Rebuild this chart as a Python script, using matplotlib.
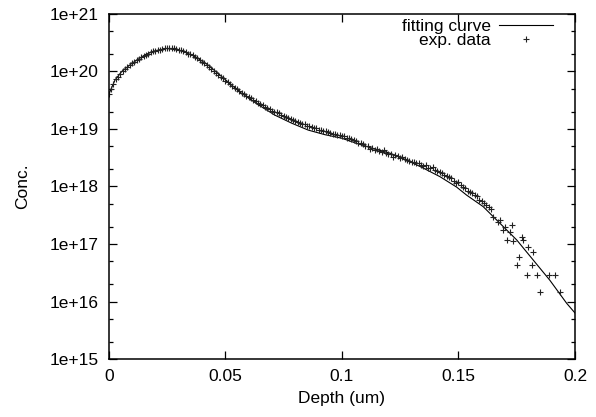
import numpy as np
import matplotlib
matplotlib.use("Agg")
import matplotlib.pyplot as plt
from matplotlib.ticker import FixedLocator, FuncFormatter

plt.rcParams['font.family'] = ['Liberation Sans', 'DejaVu Sans']

# fitting curve (depth in um, log10 of conc.)
fit_depth = [0.0, 0.0027, 0.0056, 0.0099, 0.0156, 0.0199, 0.0249, 0.0313,
             0.037, 0.0427, 0.0485, 0.0534, 0.057, 0.0642, 0.0713, 0.0785,
             0.0856, 0.0928, 0.0999, 0.1063, 0.1135, 0.1206, 0.1278, 0.1349,
             0.1421, 0.1492, 0.1535, 0.1606, 0.1678, 0.175, 0.1821, 0.1892,
             0.1964, 0.2]
fit_log = [19.60, 19.85, 20.00, 20.14, 20.29, 20.36, 20.40, 20.36,
           20.26, 20.11, 19.91, 19.74, 19.62, 19.42, 19.24, 19.10,
           18.98, 18.90, 18.84, 18.75, 18.66, 18.58, 18.46, 18.32,
           18.17, 17.99, 17.85, 17.65, 17.36, 17.07, 16.72, 16.37,
           15.97, 15.80]

# experimental points, dense part (0 .. 0.165 um, one per nm)
exp_depth = [
    0.000, 0.001, 0.002, 0.003, 0.004, 0.005, 0.006, 0.007, 0.008, 0.009,
    0.010, 0.011, 0.012, 0.013, 0.014, 0.015, 0.016, 0.017, 0.018, 0.019,
    0.020, 0.021, 0.022, 0.023, 0.024, 0.025, 0.026, 0.027, 0.028, 0.029,
    0.030, 0.031, 0.032, 0.033, 0.034, 0.035, 0.036, 0.037, 0.038, 0.039,
    0.040, 0.041, 0.042, 0.043, 0.044, 0.045, 0.046, 0.047, 0.048, 0.049,
    0.050, 0.051, 0.052, 0.053, 0.054, 0.055, 0.056, 0.057, 0.058, 0.059,
    0.060, 0.061, 0.062, 0.063, 0.064, 0.065, 0.066, 0.067, 0.068, 0.069,
    0.070, 0.071, 0.072, 0.073, 0.074, 0.075, 0.076, 0.077, 0.078, 0.079,
    0.080, 0.081, 0.082, 0.083, 0.084, 0.085, 0.086, 0.087, 0.088, 0.089,
    0.090, 0.091, 0.092, 0.093, 0.094, 0.095, 0.096, 0.097, 0.098, 0.099,
    0.100, 0.101, 0.102, 0.103, 0.104, 0.105, 0.106, 0.107, 0.108, 0.109,
    0.110, 0.111, 0.112, 0.113, 0.114, 0.115, 0.116, 0.117, 0.118, 0.119,
    0.120, 0.121, 0.122, 0.123, 0.124, 0.125, 0.126, 0.127, 0.128, 0.129,
    0.130, 0.131, 0.132, 0.133, 0.134, 0.135, 0.136, 0.137, 0.138, 0.139,
    0.140, 0.141, 0.142, 0.143, 0.144, 0.145, 0.146, 0.147, 0.148, 0.149,
    0.150, 0.151, 0.152, 0.153, 0.154, 0.155, 0.156, 0.157, 0.158, 0.159,
    0.160, 0.161, 0.162, 0.163, 0.164, 0.165]
exp_log = [
    19.60, 19.70, 19.79, 19.86, 19.91, 19.96, 20.00, 20.04, 20.08, 20.11,
    20.14, 20.17, 20.20, 20.22, 20.25, 20.27, 20.29, 20.31, 20.33, 20.35,
    20.36, 20.37, 20.38, 20.39, 20.40, 20.41, 20.40, 20.40, 20.40, 20.39,
    20.38, 20.37, 20.35, 20.33, 20.31, 20.30, 20.28, 20.25, 20.23, 20.20,
    20.17, 20.14, 20.11, 20.08, 20.05, 20.01, 19.98, 19.94, 19.91, 19.88,
    19.84, 19.81, 19.78, 19.75, 19.72, 19.69, 19.66, 19.63, 19.60, 19.58,
    19.55, 19.53, 19.51, 19.48, 19.46, 19.44, 19.42, 19.39, 19.37, 19.35,
    19.32, 19.30, 19.29, 19.27, 19.24, 19.23, 19.21, 19.19, 19.17, 19.16,
    19.14, 19.12, 19.11, 19.09, 19.08, 19.06, 19.05, 19.03, 19.02, 19.01,
    18.99, 18.98, 18.97, 18.96, 18.95, 18.93, 18.92, 18.92, 18.90, 18.89,
    18.88, 18.87, 18.85, 18.84, 18.83, 18.80, 18.79, 18.76, 18.75, 18.73,
    18.70, 18.71, 18.66, 18.67, 18.63, 18.65, 18.62, 18.60, 18.63, 18.58,
    18.56, 18.57, 18.52, 18.54, 18.53, 18.50, 18.51, 18.48, 18.46, 18.45,
    18.43, 18.42, 18.40, 18.41, 18.38, 18.36, 18.37, 18.33, 18.32, 18.34,
    18.28, 18.27, 18.25, 18.24, 18.20, 18.18, 18.16, 18.15, 18.10, 18.06,
    18.07, 18.03, 17.99, 17.98, 17.92, 17.91, 17.89, 17.86, 17.83, 17.76,
    17.75, 17.72, 17.68, 17.65, 17.60, 17.47]

# scattered tail
tail_depth = [0.1671, 0.1678, 0.1689, 0.1699, 0.1709, 0.1721, 0.1728,
              0.1735, 0.1750, 0.1760, 0.1771, 0.1778, 0.1792, 0.1799,
              0.1814, 0.1821, 0.1835, 0.1849, 0.1889, 0.1914, 0.1935]
tail_log = [17.39, 17.41, 17.24, 17.30, 17.07, 17.20, 17.33,
            17.06, 16.63, 16.78, 17.12, 17.07, 16.46, 16.94,
            16.63, 16.86, 16.46, 16.16, 16.46, 16.46, 16.16]

x_ticks = [0, 0.05, 0.1, 0.15, 0.2]
x_labels = ["0", "0.05", "0.1", "0.15", "0.2"]

fig = plt.figure(figsize=(5.96, 4.17), dpi=100)
ax = fig.add_axes([0.1824, 0.139, 0.7824, 0.8276])

ax.plot(fit_depth, 10 ** np.array(fit_log), color="black", lw=0.8,
        label="fitting curve")
ax.plot(exp_depth + tail_depth, 10 ** np.array(exp_log + tail_log),
        linestyle="none", marker="+", ms=5, mew=0.8, color="#222222",
        label="exp. data")

ax.set_yscale("log")
ax.set_xlim(0, 0.2)
ax.set_ylim(1e15, 1e21)

ax.xaxis.set_major_locator(FixedLocator(x_ticks))
ax.set_xticklabels(x_labels)
ax.xaxis.set_minor_locator(FixedLocator([]))

majors = [10.0 ** k for k in range(15, 22)]
minors = [m * 10.0 ** k for k in range(15, 21) for m in (2, 5)]
ax.yaxis.set_major_locator(FixedLocator(majors))
ax.yaxis.set_minor_locator(FixedLocator(minors))
ax.yaxis.set_major_formatter(FuncFormatter(lambda v, p: "1e+%d" % round(np.log10(v))))

ax.tick_params(which="both", direction="in", top=True, right=True,
               labelsize=12.5, colors="black")
ax.tick_params(which="major", length=6, width=0.9, pad=7)
ax.tick_params(which="minor", length=3, width=0.9)
for s in ax.spines.values():
    s.set_linewidth(1.1)

ax.set_xlabel("Depth (um)", fontsize=12.5, labelpad=5)
ax.set_ylabel("Conc.", fontsize=12.5, labelpad=14)

ax.legend(loc="upper right", bbox_to_anchor=(553 / 596, 1 - 19 / 417),
          bbox_transform=fig.transFigure, frameon=False, markerfirst=False,
          fontsize=12.5, handlelength=3.1, borderaxespad=0, borderpad=0,
          labelspacing=-0.05, handletextpad=0.5)

fig.savefig("out.png", dpi=100)
